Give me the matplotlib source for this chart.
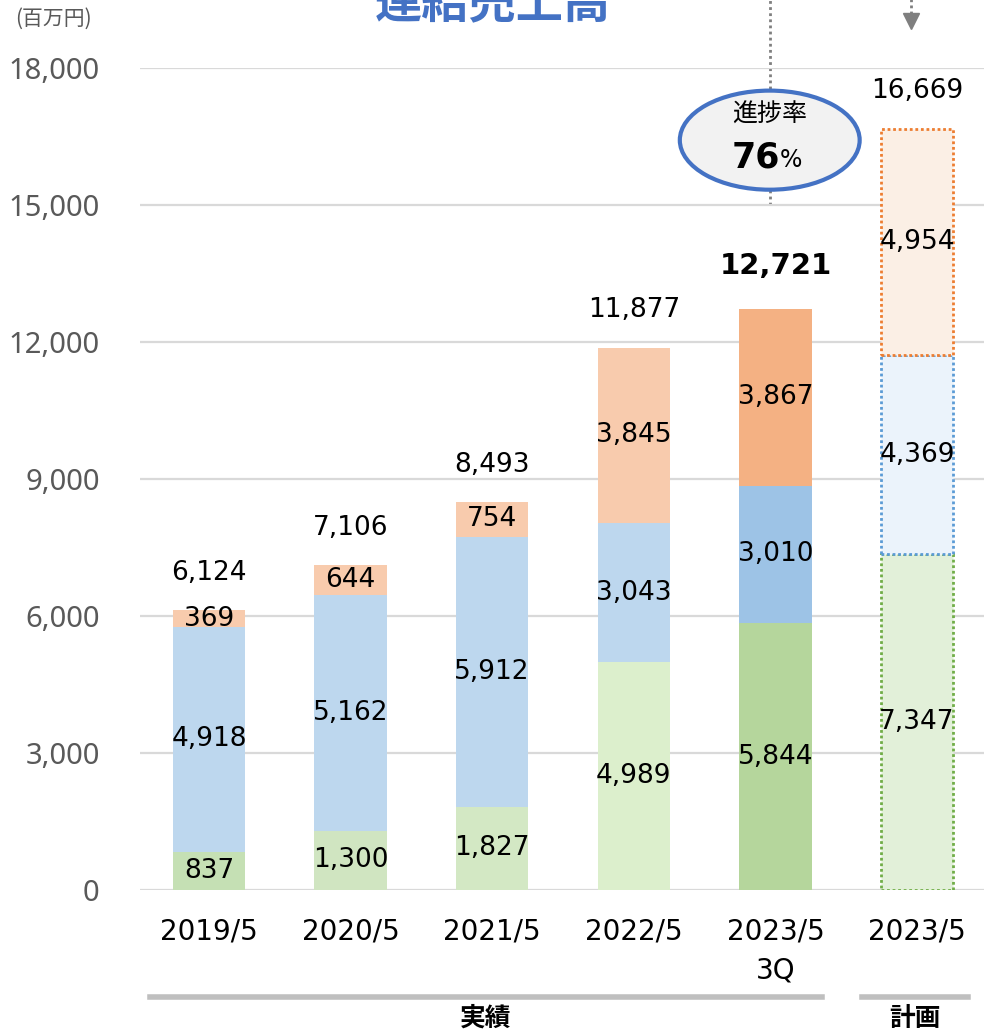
import matplotlib.pyplot as plt
from matplotlib.patches import Ellipse
import numpy as np

plt.rcParams['font.family'] = ['DejaVu Sans', 'Noto Sans CJK JP']

categories = ["2019/5", "2020/5", "2021/5", "2022/5", "2023/5\n3Q", "2023/5"]
green = [837, 1300, 1827, 4989, 5844, 7347]
blue = [4918, 5162, 5912, 3043, 3010, 4369]
orange = [369, 644, 754, 3845, 3867, 4954]
totals = [6124, 7106, 8493, 11877, 12721, 16669]
yticks = [0, 3000, 6000, 9000, 12000, 15000, 18000]

green_fc = ["#c5e0b4", "#d0e5c1", "#d3e8c4", "#dcefcc", "#b5d69c", "#e2f0d9"]
blue_fc = ["#bdd7ee", "#bdd7ee", "#bdd7ee", "#bdd7ee", "#9dc3e6", "#ebf3fb"]
orange_fc = ["#f8cbad", "#f8cbad", "#f8cbad", "#f8cbad", "#f4b183", "#fbefe5"]

fig = plt.figure(figsize=(9.84, 10.30), dpi=100)
ax = fig.add_axes([140 / 984, 140 / 1030, 844 / 984, 822 / 1030])

x = np.arange(len(categories))
w = 0.51
plan = len(categories) - 1

for i in x:
    bottom = 0
    for vals, fcs, edge in [(green, green_fc, "#70ad47"),
                            (blue, blue_fc, "#5b9bd5"),
                            (orange, orange_fc, "#ed7d31")]:
        if i == plan:
            ax.bar(i, vals[i], w, bottom=bottom, color=fcs[i], edgecolor=edge,
                   linestyle=(0, (1, 1)), linewidth=2, zorder=3)
        else:
            ax.bar(i, vals[i], w, bottom=bottom, color=fcs[i], linewidth=0, zorder=3)
        ax.text(i, bottom + vals[i] / 2, f"{vals[i]:,}", ha="center", va="center",
                fontsize=19, color="black", zorder=5)
        bottom += vals[i]
    if i == 4:
        ax.annotate(f"{totals[i]:,}", (i, bottom), xytext=(0, 31), textcoords="offset points",
                    ha="center", va="center", fontsize=21, fontweight="bold")
    else:
        ax.annotate(f"{totals[i]:,}", (i, bottom), xytext=(0, 27), textcoords="offset points",
                    ha="center", va="center", fontsize=19)

ax.set_xlim(-0.487, 5.473)
ax.set_ylim(0, 18000)
ax.set_yticks(yticks)
ax.set_yticklabels([f"{v:,}" for v in yticks], family=["Noto Sans", "DejaVu Sans"],
                   fontsize=21, color="#595959")
ax.set_xticks(x)
ax.set_xticklabels(categories, fontsize=20, linespacing=1.5)
ax.tick_params(axis="both", length=0)
ax.tick_params(axis="x", pad=20)
ax.tick_params(axis="y", pad=29)
ax.grid(axis="y", color="#d9d9d9", linewidth=1.6, zorder=0)
for s in ax.spines.values():
    s.set_visible(False)

# progress bubble with dotted guide line
ex, ey = 3.96, 16420
ax.plot([ex, ex], [15000, 19500], color="#7f7f7f", linestyle=(0, (1, 1.2)),
        linewidth=2, clip_on=False, zorder=1)
ax.add_patch(Ellipse((ex, ey), 1.27, 2170, facecolor="#f2f2f2", edgecolor="#4472c4",
                     linewidth=3, clip_on=False, zorder=6))
ax.text(ex, ey + 560, "進捗率", ha="center", va="center", fontsize=18,
        family=["Noto Sans CJK JP"], zorder=7)
ax.text(ex + 0.07, ey - 380, "76", ha="right", va="center", fontsize=25,
        fontweight="bold", zorder=7)
ax.text(ex + 0.07, ey - 430, "%", ha="left", va="center", fontsize=17, zorder=7)

# arrow toward plan bar
ax.plot([4.96, 4.96], [19050, 19600], color="#7f7f7f", linestyle=(0, (1, 1.2)),
        linewidth=2, clip_on=False)
ax.plot([4.96], [19030], marker="v", markersize=11, color="#7f7f7f",
        clip_on=False, linestyle="none")

fig.text(493 / 984, 1 - 17 / 1030, "連結売上高", ha="center", va="baseline", fontsize=34,
         fontweight="bold", color="#4472c4", family=["Noto Sans CJK JP"])
fig.text(53 / 984, 1 - 19 / 1030, "(百万円)", ha="center", va="center", fontsize=15,
         color="#595959", family=["Noto Sans CJK JP"])

# group brackets
fig.add_artist(plt.Line2D([150 / 984, 822 / 984], [1 - 997 / 1030] * 2,
                          color="#bfbfbf", linewidth=4))
fig.add_artist(plt.Line2D([862 / 984, 968 / 984], [1 - 997 / 1030] * 2,
                          color="#bfbfbf", linewidth=4))
fig.text(486 / 984, 1 - 1018 / 1030, "実績", ha="center", va="center", fontsize=18.5,
         fontweight="bold", family=["Noto Sans CJK JP"])
fig.text(915 / 984, 1 - 1018 / 1030, "計画", ha="center", va="center", fontsize=18.5,
         fontweight="bold", family=["Noto Sans CJK JP"])

fig.savefig("out.png", dpi=100)
